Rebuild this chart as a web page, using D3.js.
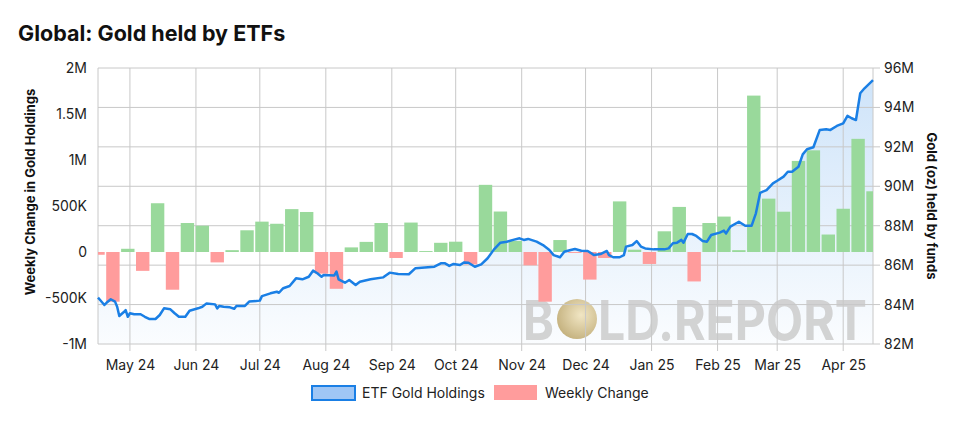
<!DOCTYPE html>
<html>
<head>
<meta charset="utf-8">
<script src="https://cdn.jsdelivr.net/npm/d3@7"></script>
<style>
  body { margin: 0; background: #fff; }
  svg { font-family: Inter, "Noto Sans", sans-serif; }
</style>
</head>
<body>
<svg id="chart" width="959" height="428"></svg>
<script>
// Weekly change in gold held by ETFs (oz)
var weekDates = [
  "2024-04-16", "2024-04-23", "2024-04-30", "2024-05-07", "2024-05-14", "2024-05-21", "2024-05-28",
  "2024-06-04", "2024-06-11", "2024-06-18", "2024-06-25", "2024-07-02", "2024-07-09", "2024-07-16",
  "2024-07-23", "2024-07-30", "2024-08-06", "2024-08-13", "2024-08-20", "2024-08-27", "2024-09-03",
  "2024-09-10", "2024-09-17", "2024-09-24", "2024-10-01", "2024-10-08", "2024-10-15", "2024-10-22",
  "2024-10-29", "2024-11-05", "2024-11-12", "2024-11-19", "2024-11-26", "2024-12-03", "2024-12-10",
  "2024-12-17", "2024-12-24", "2024-12-31", "2025-01-07", "2025-01-14", "2025-01-21", "2025-01-28",
  "2025-02-04", "2025-02-11", "2025-02-18", "2025-02-25", "2025-03-04", "2025-03-11", "2025-03-18",
  "2025-03-25", "2025-04-01", "2025-04-08", "2025-04-15"
];
var weeklyChange = [
  -30000, -540000, 35000, -205000, 530000, -410000, 315000,
  286000, -113000, 20000, 236000, 330000, 307000, 466000,
  435000, -235000, -400000, 50000, 110000, 315000, -65000,
  320000, 10000, 100000, 112000, -135000, 730000, 440000,
  120000, -145000, -540000, 130000, -10000, -300000, -65000,
  550000, 25000, -130000, 225000, 490000, -320000, 315000,
  385000, 20000, 1700000, 580000, 438000, 990000, 1105000,
  190000, 470000, 1230000, 660000
];

// ETF gold holdings (million oz)
var holdingDates = [
  "2024-04-16", "2024-04-17", "2024-04-19", "2024-04-20", "2024-04-22", "2024-04-24", "2024-04-25",
  "2024-04-26", "2024-04-28", "2024-04-29", "2024-04-30", "2024-05-01", "2024-05-03", "2024-05-06",
  "2024-05-08", "2024-05-10", "2024-05-13", "2024-05-15", "2024-05-17", "2024-05-20", "2024-05-22",
  "2024-05-24", "2024-05-27", "2024-05-29", "2024-06-02", "2024-06-04", "2024-06-06", "2024-06-10",
  "2024-06-11", "2024-06-12", "2024-06-14", "2024-06-17", "2024-06-19", "2024-06-20", "2024-06-24",
  "2024-06-26", "2024-07-01", "2024-07-02", "2024-07-06", "2024-07-09", "2024-07-10", "2024-07-12",
  "2024-07-15", "2024-07-18", "2024-07-21", "2024-07-24", "2024-07-26", "2024-07-28", "2024-07-30",
  "2024-07-31", "2024-08-05", "2024-08-06", "2024-08-07", "2024-08-10", "2024-08-12", "2024-08-15",
  "2024-08-17", "2024-08-22", "2024-08-28", "2024-08-31", "2024-09-04", "2024-09-09", "2024-09-12",
  "2024-09-18", "2024-09-21", "2024-09-24", "2024-09-26", "2024-09-28", "2024-09-30", "2024-10-03",
  "2024-10-05", "2024-10-07", "2024-10-10", "2024-10-13", "2024-10-16", "2024-10-19", "2024-10-22",
  "2024-10-25", "2024-10-28", "2024-10-31", "2024-11-02", "2024-11-04", "2024-11-08", "2024-11-11",
  "2024-11-14", "2024-11-16", "2024-11-19", "2024-11-21", "2024-11-24", "2024-11-26", "2024-11-29",
  "2024-12-02", "2024-12-05", "2024-12-08", "2024-12-11", "2024-12-12", "2024-12-14", "2024-12-17",
  "2024-12-19", "2024-12-20", "2024-12-23", "2024-12-25", "2024-12-27", "2024-12-29", "2025-01-02",
  "2025-01-07", "2025-01-09", "2025-01-11", "2025-01-13", "2025-01-15", "2025-01-16", "2025-01-18",
  "2025-01-20", "2025-01-22", "2025-01-25", "2025-01-27", "2025-01-29", "2025-02-02", "2025-02-04",
  "2025-02-05", "2025-02-07", "2025-02-11", "2025-02-14", "2025-02-17", "2025-02-19", "2025-02-21",
  "2025-02-24", "2025-02-27", "2025-03-01", "2025-03-04", "2025-03-06", "2025-03-08", "2025-03-11",
  "2025-03-13", "2025-03-15", "2025-03-18", "2025-03-21", "2025-03-24", "2025-03-26", "2025-03-29",
  "2025-04-01", "2025-04-03", "2025-04-05", "2025-04-07", "2025-04-09", "2025-04-11", "2025-04-15"
];
var holdingValues = [
  84.35, 84.23, 83.98, 84.09, 84.27, 84.15, 83.89,
  83.42, 83.61, 83.72, 83.38, 83.56, 83.51, 83.51,
  83.38, 83.27, 83.27, 83.47, 83.81, 83.76, 83.56,
  83.38, 83.38, 83.69, 83.81, 83.89, 84.06, 84.01,
  83.81, 83.93, 83.89, 83.86, 83.79, 83.93, 83.93,
  84.15, 84.20, 84.43, 84.57, 84.65, 84.60, 84.83,
  84.94, 85.33, 85.28, 85.41, 85.72, 85.59, 85.41,
  85.50, 85.48, 85.67, 85.28, 85.11, 85.25, 84.99,
  85.16, 85.28, 85.38, 85.62, 85.55, 85.54, 85.84,
  85.89, 85.92, 86.09, 86.09, 85.96, 86.06, 86.01,
  86.14, 86.12, 85.92, 86.04, 86.35, 86.80, 87.14,
  87.19, 87.28, 87.36, 87.28, 87.33, 87.19, 87.02,
  86.77, 86.51, 86.40, 86.68, 86.77, 86.82, 86.73,
  86.72, 86.51, 86.56, 86.72, 86.51, 86.40, 86.40,
  86.51, 86.94, 87.02, 87.22, 86.94, 86.85, 86.80,
  86.80, 86.85, 87.11, 87.14, 87.28, 87.14, 87.58,
  87.58, 87.48, 87.22, 87.19, 87.53, 87.65, 87.75,
  87.61, 87.95, 88.20, 88.00, 88.00, 88.63, 89.67,
  89.81, 90.15, 90.28, 90.49, 90.74, 90.74, 90.99,
  91.62, 91.88, 91.98, 92.86, 92.89, 92.86, 93.06,
  93.19, 93.57, 93.45, 93.36, 94.72, 94.97, 95.39
];

// Axis ticks
var monthTicks = [
  "2024-05-01", "2024-06-01", "2024-07-01", "2024-08-01", "2024-09-01", "2024-10-01",
  "2024-11-01", "2024-12-01", "2025-01-01", "2025-02-01", "2025-03-01", "2025-04-01"
];
var leftTicks = [-1000000, -500000, 0, 500000, 1000000, 1500000, 2000000];
var rightTicks = [82, 84, 86, 88, 90, 92, 94, 96];
var dateRange = ["2024-04-16", "2025-04-15"];

var parseDate = d3.timeParse("%Y-%m-%d");

var weeks = weekDates.map(function (d, i) {
  return { date: parseDate(d), value: weeklyChange[i] };
});
var holdings = holdingDates.map(function (d, i) {
  return { date: parseDate(d), value: holdingValues[i] };
});

var svg = d3.select("#chart"),
    margin = { top: 68, right: 86, bottom: 84, left: 98 },
    width = +svg.attr("width") - margin.left - margin.right,
    height = +svg.attr("height") - margin.top - margin.bottom;

var x = d3.scaleTime()
  .domain(dateRange.map(parseDate))
  .range([0, width]);
var yL = d3.scaleLinear().domain([-1000000, 2000000]).range([height, 0]);
var yR = d3.scaleLinear().domain([82, 96]).range([height, 0]);

var defs = svg.append("defs");
defs.append("clipPath").attr("id", "plot-clip")
  .append("rect").attr("width", width).attr("height", height);

var grad = defs.append("linearGradient")
  .attr("id", "area-grad")
  .attr("gradientUnits", "userSpaceOnUse")
  .attr("x1", 0).attr("y1", 0).attr("x2", 0).attr("y2", height);
grad.append("stop").attr("offset", "0%").attr("stop-color", "#1a7fe5").attr("stop-opacity", 0.22);
grad.append("stop").attr("offset", "100%").attr("stop-color", "#1a7fe5").attr("stop-opacity", 0.02);

var coinGrad = defs.append("radialGradient")
  .attr("id", "coin-grad").attr("cx", "60%").attr("cy", "40%").attr("r", "65%");
coinGrad.append("stop").attr("offset", "0%").attr("stop-color", "#f1e6c4");
coinGrad.append("stop").attr("offset", "100%").attr("stop-color", "#c4b17e");

// Title
svg.append("text")
  .attr("x", 18).attr("y", 41)
  .attr("font-size", 21.5).attr("font-weight", 700).attr("fill", "#111")
  .text("Global: Gold held by ETFs");

var g = svg.append("g")
  .attr("transform", "translate(" + margin.left + "," + margin.top + ")");

// Area under holdings line
var area = d3.area()
  .x(function (d) { return x(d.date); })
  .y0(height)
  .y1(function (d) { return yR(d.value); });

g.append("path")
  .datum(holdings)
  .attr("fill", "url(#area-grad)")
  .attr("d", area);

// Watermark (squeezed so its box stays inside the plot)
var wm = g.append("g").attr("transform", "translate(" + (523 - margin.left) + "," + (340 - margin.top) + ") scale(1,1.2)");
wm.append("text")
  .attr("x", 0).attr("y", 0)
  .attr("font-size", 46).attr("font-weight", 700).attr("fill", "#cbcbcb").attr("fill-opacity", 0.85)
  .attr("textLength", 31).attr("lengthAdjust", "spacingAndGlyphs")
  .text("B");
wm.append("circle")
  .attr("cx", 54).attr("cy", -17.5).attr("r", 20)
  .attr("transform", "translate(54,-17.5) scale(1,0.8333) translate(-54,17.5)")
  .attr("fill", "url(#coin-grad)");
wm.append("text")
  .attr("x", 75).attr("y", 0)
  .attr("font-size", 46).attr("font-weight", 700).attr("fill", "#cbcbcb").attr("fill-opacity", 0.85)
  .attr("textLength", 269).attr("lengthAdjust", "spacingAndGlyphs")
  .text("LD.REPORT");

// Grid: vertical at months, horizontal at right-axis ticks
g.append("g")
  .selectAll("line")
  .data(monthTicks.map(parseDate))
  .enter().append("line")
  .attr("x1", function (d) { return x(d); })
  .attr("x2", function (d) { return x(d); })
  .attr("y1", 0).attr("y2", height + 7)
  .attr("stroke", "#c8c8c8");

g.append("g")
  .selectAll("line")
  .data(rightTicks)
  .enter().append("line")
  .attr("x1", 0).attr("x2", width + 7)
  .attr("y1", function (d) { return yR(d); })
  .attr("y2", function (d) { return yR(d); })
  .attr("stroke", "#c8c8c8");

g.append("line").attr("x1", 0).attr("x2", 0).attr("y1", 0).attr("y2", height).attr("stroke", "#c8c8c8");
g.append("line").attr("x1", width).attr("x2", width).attr("y1", 0).attr("y2", height).attr("stroke", "#c8c8c8");

// Weekly change bars
var barW = 13.4;
g.append("g")
  .attr("clip-path", "url(#plot-clip)")
  .selectAll(".bar")
  .data(weeks)
  .enter().append("rect")
  .attr("class", "bar")
  .attr("x", function (d) { return x(d.date) - barW / 2; })
  .attr("width", barW)
  .attr("y", function (d) { return yL(Math.max(0, d.value)); })
  .attr("height", function (d) { return Math.abs(yL(d.value) - yL(0)); })
  .attr("fill", function (d) { return d.value >= 0 ? "#99d99b" : "#ff9c9c"; });

// Holdings line
var line = d3.line()
  .x(function (d) { return x(d.date); })
  .y(function (d) { return yR(d.value); });

g.append("path")
  .datum(holdings)
  .attr("fill", "none")
  .attr("stroke", "#1a7fe5")
  .attr("stroke-width", 2.5)
  .attr("stroke-linejoin", "round")
  .attr("d", line);

// Axes
var fmtLeft = function (v) {
  if (v === 0) return "0";
  if (Math.abs(v) >= 1000000) return (v / 1000000) + "M";
  return (v / 1000) + "K";
};

var axisX = g.append("g")
  .attr("transform", "translate(0," + height + ")")
  .call(d3.axisBottom(x).tickValues(monthTicks.map(parseDate)).tickFormat(d3.timeFormat("%b %y")).tickSize(0).tickPadding(16));

var axisL = g.append("g")
  .call(d3.axisLeft(yL).tickValues(leftTicks).tickFormat(fmtLeft).tickSize(0).tickPadding(11));

var axisR = g.append("g")
  .attr("transform", "translate(" + width + ",0)")
  .call(d3.axisRight(yR).tickValues(rightTicks).tickFormat(function (d) { return d + "M"; }).tickSize(0).tickPadding(11));

[axisX, axisL, axisR].forEach(function (a) {
  a.select(".domain").remove();
  a.selectAll("text")
    .attr("font-family", "Inter, 'Noto Sans', sans-serif")
    .attr("font-size", 14)
    .attr("fill", "#222");
});

// Axis titles
svg.append("text")
  .attr("transform", "translate(30,192) rotate(-90)")
  .attr("text-anchor", "middle").attr("dominant-baseline", "central")
  .attr("font-size", 13).attr("font-weight", 700).attr("fill", "#111")
  .text("Weekly Change in Gold Holdings");

svg.append("text")
  .attr("transform", "translate(932,206) rotate(90)")
  .attr("text-anchor", "middle").attr("dominant-baseline", "central")
  .attr("font-size", 13).attr("font-weight", 700).attr("fill", "#111")
  .text("Gold (oz) held by funds");

// Legend
var legend = svg.append("g").attr("font-size", 14).attr("fill", "#222");
legend.append("rect")
  .attr("x", 312).attr("y", 386).attr("width", 43).attr("height", 14)
  .attr("fill", "#9fc6f5").attr("stroke", "#1a7fe5").attr("stroke-width", 2);
legend.append("text").attr("x", 362).attr("y", 398).text("ETF Gold Holdings");
legend.append("rect")
  .attr("x", 494).attr("y", 385).attr("width", 43).attr("height", 15)
  .attr("fill", "#ff9c9c");
legend.append("text").attr("x", 545).attr("y", 398).text("Weekly Change");
</script>
</body>
</html>
